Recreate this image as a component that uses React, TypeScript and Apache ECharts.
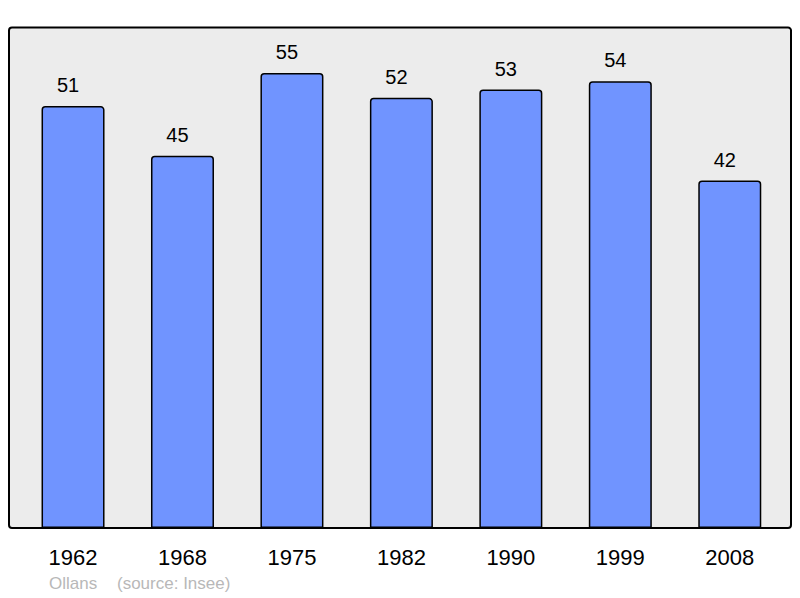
import React, { useEffect, useRef } from "react";
import * as echarts from "echarts";

const categories = ["1962", "1968", "1975", "1982", "1990", "1999", "2008"];
const population = [51, 45, 55, 52, 53, 54, 42];
const yMax = 60.5;
const placeName = "Ollans";
const sourceText = "(source: Insee)";

const FONT = "Liberation Sans, Arial, sans-serif";

export default function App() {
  const ref = useRef<HTMLDivElement>(null);
  useEffect(() => {
    document.body.style.margin = "0";
    const chart = echarts.init(ref.current!, undefined, { renderer: "svg" });
    chart.setOption({
      animation: false,
      textStyle: { fontFamily: FONT },
      graphic: [
        {
          type: "rect",
          z: -10,
          shape: { x: 9, y: 27.5, width: 782, height: 500.5, r: 3 },
          style: { fill: "#ececec", stroke: "#000", lineWidth: 2 },
        },
        {
          type: "text",
          left: 49,
          top: 575,
          style: { text: placeName, fill: "#b8b8b8", fontSize: 17, fontFamily: FONT },
        },
        {
          type: "text",
          left: 117,
          top: 575,
          style: { text: sourceText, fill: "#b8b8b8", fontSize: 17, fontFamily: FONT },
        },
      ],
      grid: { left: 18.3, right: 15.5, top: 27.5, bottom: 70, containLabel: false },
      xAxis: {
        type: "category",
        data: categories,
        axisLine: { show: false },
        axisTick: { show: false },
        axisLabel: { color: "#000", fontSize: 22, margin: 18 },
      },
      yAxis: {
        type: "value",
        min: 0,
        max: yMax,
        show: false,
        splitLine: { show: false },
      },
      series: [
        {
          type: "bar",
          data: population,
          barWidth: 63,
          itemStyle: { color: "#7094ff", borderColor: "#000", borderWidth: 1.5, borderRadius: [3, 3, 0, 0] },
          label: { show: true, position: "top", distance: 11, offset: [-5, 0], color: "#000", fontSize: 20 },
        },
      ],
    });
    return () => chart.dispose();
  }, []);
  return <div ref={ref} style={{ width: 800, height: 598 }} />;
}
